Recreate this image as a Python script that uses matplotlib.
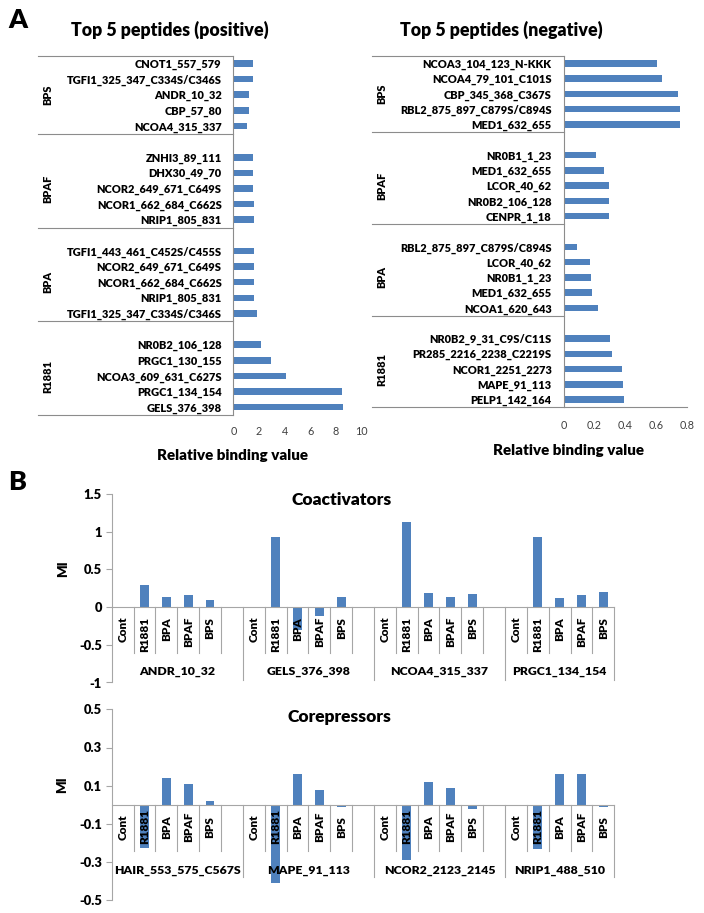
import numpy as np
import matplotlib
matplotlib.use("Agg")
import matplotlib.pyplot as plt
from matplotlib import transforms
from matplotlib.lines import Line2D
from matplotlib.font_manager import FontProperties

FONT = "Lato"
BOLD = "heavy"
W, H = 704, 913
BAR = "#4F81BD"
GRID = "#8C8C8C"

# ---------------- Panel A data ----------------
groups_a = ["BPS", "BPAF", "BPA", "R1881"]

pos_bps_labels = ["CNOT1_557_579", "TGFI1_325_347_C334S/C346S", "ANDR_10_32", "CBP_57_80", "NCOA4_315_337"]
pos_bps_values = [1.56, 1.50, 1.23, 1.20, 1.04]
pos_bpaf_labels = ["ZNHI3_89_111", "DHX30_49_70", "NCOR2_649_671_C649S", "NCOR1_662_684_C662S", "NRIP1_805_831"]
pos_bpaf_values = [1.56, 1.55, 1.56, 1.60, 1.60]
pos_bpa_labels = ["TGFI1_443_461_C452S/C455S", "NCOR2_649_671_C649S", "NCOR1_662_684_C662S", "NRIP1_805_831", "TGFI1_325_347_C334S/C346S"]
pos_bpa_values = [1.60, 1.60, 1.62, 1.65, 1.82]
pos_r1881_labels = ["NR0B2_106_128", "PRGC1_130_155", "NCOA3_609_631_C627S", "PRGC1_134_154", "GELS_376_398"]
pos_r1881_values = [2.19, 2.94, 4.12, 8.47, 8.52]

neg_bps_labels = ["NCOA3_104_123_N-KKK", "NCOA4_79_101_C101S", "CBP_345_368_C367S", "RBL2_875_897_C879S/C894S", "MED1_632_655"]
neg_bps_values = [0.61, 0.642, 0.746, 0.759, 0.757]
neg_bpaf_labels = ["NR0B1_1_23", "MED1_632_655", "LCOR_40_62", "NR0B2_106_128", "CENPR_1_18"]
neg_bpaf_values = [0.21, 0.262, 0.295, 0.297, 0.297]
neg_bpa_labels = ["RBL2_875_897_C879S/C894S", "LCOR_40_62", "NR0B1_1_23", "MED1_632_655", "NCOA1_620_643"]
neg_bpa_values = [0.089, 0.169, 0.178, 0.182, 0.221]
neg_r1881_labels = ["NR0B2_9_31_C9S/C11S", "PR285_2216_2238_C2219S", "NCOR1_2251_2273", "MAPE_91_113", "PELP1_142_164"]
neg_r1881_values = [0.30, 0.315, 0.377, 0.388, 0.393]

pos_xticks = [0, 2, 4, 6, 8, 10]
neg_xticks = [0, 0.2, 0.4, 0.6, 0.8]
neg_xticklabels = ["0", "0.2", "0.4", "0.6", "0.8"]

# ---------------- Panel B data ----------------
treatments = ["Cont", "R1881", "BPA", "BPAF", "BPS"]
coact_peptides = ["ANDR_10_32", "GELS_376_398", "NCOA4_315_337", "PRGC1_134_154"]
coact_andr = [0, 0.29, 0.13, 0.16, 0.09]
coact_gels = [0, 0.93, -0.30, -0.12, 0.13]
coact_ncoa4 = [0, 1.13, 0.185, 0.13, 0.17]
coact_prgc1 = [0, 0.93, 0.116, 0.155, 0.20]
coact_yticks = [-1, -0.5, 0, 0.5, 1, 1.5]
coact_yticklabels = ["-1", "-0.5", "0", "0.5", "1", "1.5"]

corep_peptides = ["HAIR_553_575_C567S", "MAPE_91_113", "NCOR2_2123_2145", "NRIP1_488_510"]
corep_hair = [0, -0.225, 0.14, 0.11, 0.02]
corep_mape = [0, -0.41, 0.16, 0.08, -0.01]
corep_ncor2 = [0, -0.29, 0.12, 0.09, -0.02]
corep_nrip1 = [0, -0.23, 0.16, 0.16, -0.01]
corep_yticks = [-0.5, -0.3, -0.1, 0.1, 0.3, 0.5]
corep_yticklabels = ["-0.5", "-0.3", "-0.1", "0.1", "0.3", "0.5"]

# ---------------- figure ----------------
fig = plt.figure(figsize=(W / 100, H / 100), dpi=100)
renderer = fig.canvas.get_renderer()


def fit(s, px, weight=BOLD):
    fp = FontProperties(family=FONT, weight=weight, size=10)
    w, h, d = renderer.get_text_width_height_descent(s, fp, ismath=False)
    return 10.0 * px / w


def axes_px(x0, y0, x1, y1):
    return fig.add_axes([x0 / W, 1 - y1 / H, (x1 - x0) / W, (y1 - y0) / H])


def ftext(x, y, s, size, weight=BOLD, **kw):
    fig.text(x / W, 1 - y / H, s, fontsize=size, fontweight=weight,
             family=FONT, **kw)


PEP_FS = fit("TGFI1_325_347_C334S/C346S", 155)
TITLE_FS = fit("Top 5 peptides (positive)", 197)
XLAB_FS = fit("Relative binding value", 151)
TICK_A_FS = fit("0.8", 15, weight="normal")
LET_FS = fit("A", 19)
SUB_FS = fit("Coactivators", 100)
GRPB_FS = fit("HAIR_553_575_C567S", 126)
CAT_FS = fit("R1881", 35)
YT_FS = fit("-0.5", 23)
MI_FS = fit("MI", 17)


def panel_a(ax, labels_list, values_list, xmax, xticks, xticklabels,
            grp_x_px, lab_right_px, line_left_px, ax_left_px, tick_pad, bottom_spine):
    centers, labels, values = [], [], []
    bounds = [0]
    slot = 0
    for g, (labs, vals) in enumerate(zip(labels_list, values_list)):
        if g > 0:
            slot += 1
        start = slot
        for lab, v in zip(labs, vals):
            centers.append(slot + 0.5)
            labels.append(lab)
            values.append(v)
            slot += 1
        bounds.append(slot)
        tr = transforms.blended_transform_factory(fig.transFigure, ax.transData)
        fig.text(grp_x_px / W, (start + slot) / 2.0, groups_a[g], transform=tr,
                 rotation=90, ha="center", va="center", fontsize=PEP_FS,
                 fontweight=BOLD, family=FONT)
    ax.barh(centers, values, height=0.42, color=BAR, zorder=2)
    ax.set_ylim(slot, 0)
    ax.set_xlim(0, xmax)
    ax.set_yticks(centers)
    ax.set_yticklabels(labels, fontsize=PEP_FS, fontweight=BOLD, family=FONT)
    ax.tick_params(axis="y", length=0, pad=(ax_left_px - lab_right_px) * 0.72)
    ax.set_xticks(xticks)
    ax.set_xticklabels(xticklabels, fontsize=TICK_A_FS, family=FONT, color="#404040")
    ax.tick_params(axis="x", length=0, pad=tick_pad)
    for sp in ["top", "right"]:
        ax.spines[sp].set_visible(False)
    ax.spines["bottom"].set_visible(bottom_spine)
    ax.spines["bottom"].set_color(GRID)
    ax.spines["left"].set_color(GRID)
    ax.spines["bottom"].set_linewidth(0.8)
    ax.spines["left"].set_linewidth(0.8)
    ax.patch.set_visible(False)
    tr = transforms.blended_transform_factory(fig.transFigure, ax.transData)
    for b in bounds:
        fig.add_artist(Line2D([line_left_px / W, ax_left_px / W], [b, b],
                              transform=tr, color=GRID, lw=0.8))


axL = axes_px(233.3, 55.7, 361.7, 415.0)
panel_a(axL,
        [pos_bps_labels, pos_bpaf_labels, pos_bpa_labels, pos_r1881_labels],
        [pos_bps_values, pos_bpaf_values, pos_bpa_values, pos_r1881_values],
        10, pos_xticks, [str(t) for t in pos_xticks],
        47.5, 221.7, 38, 233.3, 8.0, False)

axR = axes_px(563.7, 55.7, 686.7, 407.3)
panel_a(axR,
        [neg_bps_labels, neg_bpaf_labels, neg_bpa_labels, neg_r1881_labels],
        [neg_bps_values, neg_bpaf_values, neg_bpa_values, neg_r1881_values],
        0.8, neg_xticks, neg_xticklabels,
        381.7, 551.7, 372, 563.7, 9.5, True)

ftext(8, 19.5, "A", LET_FS, ha="left", va="center")
ftext(169.5, 29.5, "Top 5 peptides (positive)", TITLE_FS, ha="center", va="center")
ftext(501, 29.5, "Top 5 peptides (negative)", TITLE_FS, ha="center", va="center")
ftext(232.5, 455.7, "Relative binding value", XLAB_FS, ha="center", va="center")
ftext(568.7, 450.7, "Relative binding value", XLAB_FS, ha="center", va="center")


def panel_b(ax, peptides, values_list, ylim, yticks, yticklabels, ax_h_px,
            cat_off_px, cat_va, short_px, long_px, grp_px):
    ymin, ymax = ylim
    dpp = (ymax - ymin) / ax_h_px
    slot = 0
    xs, vals = [], []
    group_bounds = [0]
    for g, (pep, vv) in enumerate(zip(peptides, values_list)):
        start = slot
        for k, (t, v) in enumerate(zip(treatments, vv)):
            xs.append(slot + 0.5)
            vals.append(v)
            ax.text(slot + 0.5, -cat_off_px * dpp, t, rotation=90, ha="center",
                    va=cat_va, fontsize=CAT_FS, fontweight=BOLD, family=FONT,
                    zorder=5, clip_on=False)
            slot += 1
        short_lines = list(range(start + 1, slot + 1))
        if g < len(peptides) - 1:
            slot += 1
        else:
            short_lines = short_lines[:-1]
        group_bounds.append(slot)
        for s in short_lines:
            ax.add_line(Line2D([s, s], [0, -short_px * dpp], color="#A6A6A6",
                               lw=0.8, clip_on=False))
        ax.text((start + slot) / 2.0, -grp_px * dpp, pep, ha="center", va="center",
                fontsize=GRPB_FS, fontweight=BOLD, family=FONT, clip_on=False)
    for b in group_bounds[1:]:
        ax.add_line(Line2D([b, b], [0, -long_px * dpp], color="#A6A6A6",
                           lw=0.8, clip_on=False))
    ax.bar(xs, vals, width=0.4, color=BAR, zorder=2)
    ax.set_xlim(0, slot)
    ax.set_ylim(ymin, ymax)
    ax.set_xticks([])
    ax.set_yticks(yticks)
    ax.set_yticklabels(yticklabels, fontsize=YT_FS, fontweight=BOLD, family=FONT)
    ax.tick_params(axis="y", direction="out", length=4, color="#A6A6A6", pad=3)
    ax.spines["bottom"].set_position(("data", 0))
    for sp in ["top", "right"]:
        ax.spines[sp].set_visible(False)
    for sp in ["bottom", "left"]:
        ax.spines[sp].set_color("#A6A6A6")
        ax.spines[sp].set_linewidth(0.8)
    ax.patch.set_visible(False)


axB1 = axes_px(111.7, 494.0, 614.3, 682.5)
panel_b(axB1, coact_peptides, [coact_andr, coact_gels, coact_ncoa4, coact_prgc1],
        (-1, 1.5), coact_yticks, coact_yticklabels, 682.5 - 494.0,
        9.7, "top", 45.7, 72.7, 64.4)

axB2 = axes_px(111.7, 709.3, 614.3, 900.3)
panel_b(axB2, corep_peptides, [corep_hair, corep_mape, corep_ncor2, corep_nrip1],
        (-0.5, 0.5), corep_yticks, corep_yticklabels, 900.3 - 709.3,
        22.0, "center", 46.0, 72.3, 65.3)

ftext(8, 481.5, "B", LET_FS, ha="left", va="center")
ftext(342, 500, "Coactivators", SUB_FS, ha="center", va="center")
ftext(339, 717, "Corepressors", SUB_FS, ha="center", va="center")
ftext(63, 569, "MI", MI_FS, ha="center", va="center", rotation=90)
ftext(62, 785, "MI", MI_FS, ha="center", va="center", rotation=90)

fig.savefig("out.png", dpi=100, facecolor="white")
